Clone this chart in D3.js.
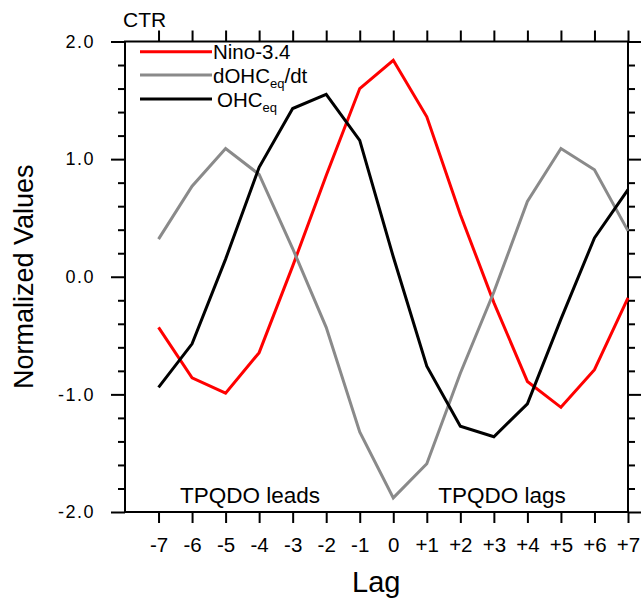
<!DOCTYPE html>
<html>
<head>
<meta charset="utf-8">
<script src="https://cdn.jsdelivr.net/npm/d3@7"></script>
<style>
  body { margin: 0; background: #fff; }
  svg { display: block; font-family: "Liberation Sans", Arial, Helvetica, sans-serif; }
</style>
</head>
<body>
<svg id="chart" width="641" height="598"></svg>
<script>
// lag values and labels
var lags = [-7, -6, -5, -4, -3, -2, -1, 0, 1, 2, 3, 4, 5, 6, 7];
var lagLabels = ["-7", "-6", "-5", "-4", "-3", "-2", "-1", "0", "+1", "+2", "+3", "+4", "+5", "+6", "+7"];
var yTicks = [-2, -1, 0, 1, 2];
var yLabels = ["-2.0", "-1.0", "0.0", "1.0", "2.0"];

// series
var nino34 = [-0.43, -0.86, -0.99, -0.645, 0.09, 0.86, 1.60, 1.84, 1.36, 0.53, -0.22, -0.89, -1.11, -0.79, -0.18];
var dohcdt = [0.32, 0.77, 1.09, 0.87, 0.24, -0.43, -1.32, -1.88, -1.59, -0.82, -0.13, 0.64, 1.09, 0.91, 0.39];
var ohc    = [-0.94, -0.57, 0.15, 0.93, 1.43, 1.55, 1.16, 0.17, -0.76, -1.27, -1.36, -1.08, -0.36, 0.33, 0.74];

var series = [
  {name: "Nino-3.4", values: nino34, color: "#ff0000"},
  {name: "dOHC", sub: "eq", post: "/dt", values: dohcdt, color: "#8a8a8a"},
  {name: "OHC", sub: "eq", post: "", values: ohc, color: "#000000"}
];

var svg = d3.select("#chart");
var pLeft = 125, pRight = 628, pTop = 41.5, pBottom = 512;

var x = d3.scaleLinear().domain([-8, 7]).range([pLeft, pRight]);
var y = d3.scaleLinear().domain([-2, 2]).range([pBottom, pTop]);

var yMinor = d3.range(-2, 2.01, 0.2).map(function(d){ return Math.round(d*10)/10; })
    .filter(function(d){ return yTicks.indexOf(d) < 0; });

// axes (ticks outward on all four sides)
function styleAxis(g){
  g.select(".domain").remove();
  g.selectAll(".tick line").attr("stroke", "#000").attr("stroke-width", 2);
}

svg.append("g").attr("transform", "translate(0," + pBottom + ")")
  .call(d3.axisBottom(x).tickValues(lags).tickSize(11).tickFormat(function(d, i){ return lagLabels[i]; }).tickPadding(14))
  .call(styleAxis)
  .selectAll("text").attr("font-size", 20.5).attr("fill", "#000").attr("font-family", "Liberation Sans, Arial, sans-serif");

svg.append("g").attr("transform", "translate(0," + pTop + ")")
  .call(d3.axisTop(x).tickValues(lags).tickSize(11).tickFormat(""))
  .call(styleAxis);

svg.append("g").attr("transform", "translate(" + pLeft + ",0)")
  .call(d3.axisLeft(y).tickValues(yTicks).tickSize(14).tickPadding(16).tickFormat(function(d, i){ return yLabels[i]; }))
  .call(styleAxis)
  .selectAll("text").attr("font-size", 18).attr("fill", "#000").attr("letter-spacing", 1.5)
  .attr("font-family", "Liberation Sans, Arial, sans-serif");

svg.append("g").attr("transform", "translate(" + pLeft + ",0)")
  .call(d3.axisLeft(y).tickValues(yMinor).tickSize(7).tickFormat(""))
  .call(styleAxis);

svg.append("g").attr("transform", "translate(" + pRight + ",0)")
  .call(d3.axisRight(y).tickValues(yTicks).tickSize(14).tickFormat(""))
  .call(styleAxis);

svg.append("g").attr("transform", "translate(" + pRight + ",0)")
  .call(d3.axisRight(y).tickValues(yMinor).tickSize(7).tickFormat(""))
  .call(styleAxis);

// frame
svg.append("rect")
  .attr("x", pLeft).attr("y", pTop)
  .attr("width", pRight - pLeft).attr("height", pBottom - pTop)
  .attr("fill", "none").attr("stroke", "#000").attr("stroke-width", 2);

// lines
var line = d3.line()
  .x(function(d, i){ return x(lags[i]); })
  .y(function(d){ return y(d); });

series.forEach(function(s){
  svg.append("path")
    .datum(s.values)
    .attr("d", line)
    .attr("fill", "none")
    .attr("stroke", s.color)
    .attr("stroke-width", 3)
    .attr("stroke-linejoin", "miter");
});

// legend
var legY = [51.7, 75, 99];
series.forEach(function(s, i){
  svg.append("line")
    .attr("x1", 140).attr("x2", 212)
    .attr("y1", legY[i]).attr("y2", legY[i])
    .attr("stroke", s.color).attr("stroke-width", 3);
  var t = svg.append("text")
    .attr("x", i === 2 ? 217 : 213)
    .attr("y", legY[i] + 7.5)
    .attr("font-size", 20.5);
  t.append("tspan").text(s.name);
  if (s.sub) {
    t.append("tspan").attr("font-size", 13).attr("dy", 5).text(s.sub);
    if (s.post) t.append("tspan").attr("dy", -5).text(s.post);
  }
});

// annotations
svg.append("text").attr("x", 123).attr("y", 26.5).attr("font-size", 21).text("CTR");
svg.append("text").attr("x", 250).attr("y", 503).attr("text-anchor", "middle").attr("font-size", 22.5).text("TPQDO leads");
svg.append("text").attr("x", 502).attr("y", 503).attr("text-anchor", "middle").attr("font-size", 22.5).text("TPQDO lags");

// axis titles
svg.append("text").attr("x", x(0) - 17).attr("y", 592).attr("text-anchor", "middle").attr("font-size", 29).text("Lag");
svg.append("text")
  .attr("transform", "translate(33," + ((pTop + pBottom) / 2) + ") rotate(-90)")
  .attr("text-anchor", "middle").attr("font-size", 27).text("Normalized Values");
</script>
</body>
</html>
